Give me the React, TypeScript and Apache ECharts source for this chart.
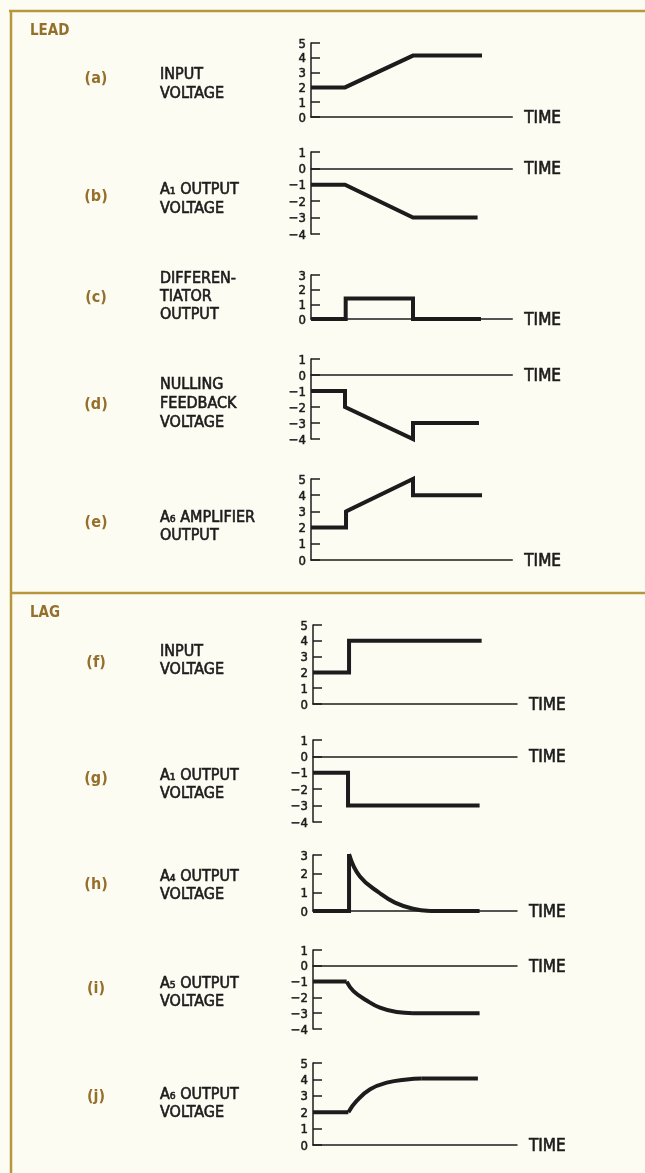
import React, { useEffect, useRef } from "react";
import * as echarts from "echarts";

const FONT = '"DejaVu Sans Condensed", "Liberation Sans Narrow", sans-serif';
const INK = "#1c1c1c";
const BROWN = "#94702c";
const RULE = "#b8963e";

// ---- data (time in arbitrary units, voltage in volts) ----
const aT = [0, 1.0, 3.0, 5.03];
const aV = [2, 2, 4.15, 4.15];

const bT = [0, 1.0, 3.0, 4.9];
const bV = [-1, -1, -3, -3];

const cT = [0, 1.02, 1.02, 3.0, 3.0, 5.0];
const cV = [0, 0, 1.4, 1.4, 0, 0];

const dT = [0, 1.0, 1.0, 3.0, 3.0, 4.94];
const dV = [-1, -1, -2, -4, -3, -3];

const eT = [0, 1.03, 1.03, 3.0, 3.0, 5.03];
const eV = [2, 2, 3, 5, 4, 4];

const fT = [0, 1.06, 1.06, 4.96];
const fV = [2, 2, 4, 4];

const gT = [0, 1.03, 1.03, 4.9];
const gV = [-1, -1, -3, -3];

const hStepT = [0, 1.06, 1.06];
const hStepV = [0, 0, 3.05];
const hCurveT = [1.06, 1.38, 1.97, 2.41, 2.94, 3.44];
const hCurveV = [3.05, 1.85, 0.95, 0.45, 0.12, 0];
const hTailT = [3.44, 4.9];
const hTailV = [0, 0];

const iStepT = [0, 0.99];
const iStepV = [-1, -1];
const iCurveT = [0.99, 1.19, 1.58, 1.97, 2.46, 2.94];
const iCurveV = [-1, -1.6, -2.2, -2.65, -2.93, -3];
const iTailT = [2.94, 4.9];
const iTailV = [-3, -3];

const jStepT = [0, 1.04];
const jStepV = [2, 2];
const jCurveT = [1.04, 1.29, 1.68, 2.17, 2.76, 3.2];
const jCurveV = [2, 2.7, 3.4, 3.8, 4.0, 4.05];
const jTailT = [3.2, 4.85];
const jTailV = [4.05, 4.05];

const letters = ["(a)", "(b)", "(c)", "(d)", "(e)", "(f)", "(g)", "(h)", "(i)", "(j)"];
const captions = [
  ["INPUT", "VOLTAGE"],
  ["A\u2081 OUTPUT", "VOLTAGE"],
  ["DIFFEREN-", "TIATOR", "OUTPUT"],
  ["NULLING", "FEEDBACK", "VOLTAGE"],
  ["A\u2086 AMPLIFIER", "OUTPUT"],
  ["INPUT", "VOLTAGE"],
  ["A\u2081 OUTPUT", "VOLTAGE"],
  ["A\u2084 OUTPUT", "VOLTAGE"],
  ["A\u2085 OUTPUT", "VOLTAGE"],
  ["A\u2086 OUTPUT", "VOLTAGE"],
];
const yMins = [0, -4, 0, -4, 0, 0, -4, 0, -4, 0];
const yMaxs = [5, 1, 3, 1, 5, 5, 1, 3, 1, 5];
const sectionTitles = ["LEAD", "LAG"];

// ---- layout ----
const PX_PER_T = 34;
const layout = [
  { top: 43, bottom: 117, left: 311, xMax: 5.92, letterY: 77, lineYs: [73, 92] },
  { top: 152, bottom: 234, left: 311, xMax: 5.92, letterY: 195, lineYs: [188, 207] },
  { top: 275, bottom: 319, left: 311, xMax: 5.92, letterY: 296, lineYs: [277, 295, 313] },
  { top: 359, bottom: 439, left: 311, xMax: 5.92, letterY: 403, lineYs: [383, 402, 421] },
  { top: 479, bottom: 560, left: 311, xMax: 5.92, letterY: 521, lineYs: [516, 534] },
  { top: 625, bottom: 704, left: 313, xMax: 6.0, letterY: 661, lineYs: [650, 668] },
  { top: 740, bottom: 822, left: 313, xMax: 6.0, letterY: 777, lineYs: [774, 792] },
  { top: 855, bottom: 911, left: 313, xMax: 6.0, letterY: 883, lineYs: [875, 893] },
  { top: 950, bottom: 1029, left: 313, xMax: 6.0, letterY: 987, lineYs: [982, 1000] },
  { top: 1063, bottom: 1145, left: 313, xMax: 6.0, letterY: 1095, lineYs: [1093, 1111] },
];

const zip = (t: number[], v: number[]) => t.map((x, k) => [x, v[k]]);

const panelSeries: { data: number[][]; smooth: boolean }[][] = [
  [{ data: zip(aT, aV), smooth: false }],
  [{ data: zip(bT, bV), smooth: false }],
  [{ data: zip(cT, cV), smooth: false }],
  [{ data: zip(dT, dV), smooth: false }],
  [{ data: zip(eT, eV), smooth: false }],
  [{ data: zip(fT, fV), smooth: false }],
  [{ data: zip(gT, gV), smooth: false }],
  [
    { data: zip(hStepT, hStepV), smooth: false },
    { data: zip(hCurveT, hCurveV), smooth: true },
    { data: zip(hTailT, hTailV), smooth: false },
  ],
  [
    { data: zip(iStepT, iStepV), smooth: false },
    { data: zip(iCurveT, iCurveV), smooth: true },
    { data: zip(iTailT, iTailV), smooth: false },
  ],
  [
    { data: zip(jStepT, jStepV), smooth: false },
    { data: zip(jCurveT, jCurveV), smooth: true },
    { data: zip(jTailT, jTailV), smooth: false },
  ],
];

function buildOption() {
  const grid: any[] = [];
  const xAxis: any[] = [];
  const yAxis: any[] = [];
  const series: any[] = [];
  const graphic: any[] = [];

  graphic.push({ type: "rect", shape: { x: 0, y: 0, width: 645, height: 1173 }, style: { fill: "#fdfcf3" }, z: -10 });
  graphic.push({ type: "line", shape: { x1: 9, y1: 11, x2: 645, y2: 11 }, style: { stroke: RULE, lineWidth: 2.5 } });
  graphic.push({ type: "line", shape: { x1: 11, y1: 10, x2: 11, y2: 1173 }, style: { stroke: RULE, lineWidth: 2.5 } });
  graphic.push({ type: "line", shape: { x1: 11, y1: 593, x2: 645, y2: 593 }, style: { stroke: RULE, lineWidth: 2.5 } });

  graphic.push({ type: "text", x: 30, y: 30, style: { text: sectionTitles[0], fontSize: 15, fontWeight: "bold", fontFamily: FONT, fill: BROWN, verticalAlign: "middle" } });
  graphic.push({ type: "text", x: 30, y: 612, style: { text: sectionTitles[1], fontSize: 15, fontWeight: "bold", fontFamily: FONT, fill: BROWN, verticalAlign: "middle" } });

  layout.forEach((L, i) => {
    grid.push({ left: L.left, top: L.top, width: L.xMax * PX_PER_T, height: L.bottom - L.top, containLabel: false });
    xAxis.push({
      gridIndex: i,
      type: "value",
      min: 0,
      max: L.xMax,
      axisLine: { show: true, onZero: true, lineStyle: { color: INK, width: 1.5 } },
      axisTick: { show: false },
      axisLabel: { show: false },
      splitLine: { show: false },
      name: "TIME",
      nameLocation: "end",
      nameGap: 12,
      nameTextStyle: {
        fontSize: 17,
        fontFamily: FONT,
        color: INK,
        align: "left",
        verticalAlign: "middle",
        textBorderColor: INK,
        textBorderWidth: 0.6,
      },
    });
    yAxis.push({
      gridIndex: i,
      type: "value",
      min: yMins[i],
      max: yMaxs[i],
      interval: 1,
      axisLine: { show: true, onZero: false, lineStyle: { color: INK, width: 1.5 } },
      axisTick: { show: true, inside: true, length: 9, lineStyle: { color: INK, width: 1.5 } },
      axisLabel: {
        show: true,
        fontSize: 13,
        fontFamily: FONT,
        color: INK,
        margin: 5,
        textBorderColor: INK,
        textBorderWidth: 0.5,
        formatter: (v: number) => String(v).replace("-", "\u2212"),
      },
      splitLine: { show: false },
    });
    panelSeries[i].forEach((s) => {
      series.push({
        type: "line",
        xAxisIndex: i,
        yAxisIndex: i,
        data: s.data,
        smooth: s.smooth ? 0.45 : false,
        symbol: "none",
        clip: false,
        lineStyle: { color: INK, width: 4, join: "miter", cap: "butt" },
        itemStyle: { color: INK },
      });
    });

    graphic.push({
      type: "text",
      x: 96,
      y: L.letterY,
      style: { text: letters[i], fontSize: 16, fontWeight: "bold", fontFamily: FONT, fill: BROWN, align: "center", verticalAlign: "middle" },
    });
    captions[i].forEach((line, k) => {
      graphic.push({
        type: "text",
        x: 160,
        y: L.lineYs[k],
        style: { text: line, fontSize: 16, fontFamily: FONT, fill: INK, stroke: INK, lineWidth: 0.6, verticalAlign: "middle" },
      });
    });
  });

  return { animation: false, grid, xAxis, yAxis, series, graphic };
}

export default function App() {
  const ref = useRef<HTMLDivElement>(null);
  useEffect(() => {
    if (!ref.current) return;
    const chart = echarts.init(ref.current, null, { renderer: "svg", width: 645, height: 1173 });
    chart.setOption(buildOption() as any);
    return () => chart.dispose();
  }, []);
  return <div ref={ref} style={{ position: "fixed", left: 0, top: 0, width: 645, height: 1173 }} />;
}
